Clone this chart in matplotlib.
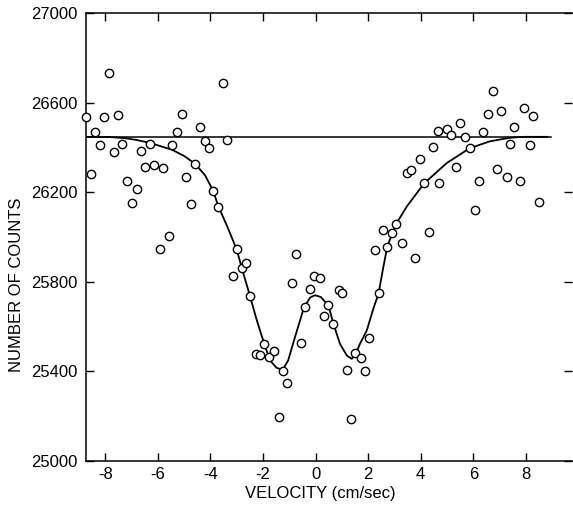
import matplotlib.pyplot as plt

plt.rcParams["font.family"] = ["Liberation Sans", "DejaVu Sans"]

# measured counts (open circles)
velocity = [
    -8.73, -8.55, -8.38, -8.19, -8.03, -7.86, -7.67, -7.52, -7.35, -7.16,
    -6.98, -6.80, -6.63, -6.47, -6.29, -6.14, -5.91, -5.80, -5.58, -5.47,
    -5.27, -5.09, -4.91, -4.72, -4.57, -4.40, -4.21, -4.05, -3.89, -3.72,
    -3.53, -3.37, -3.15, -3.00, -2.81, -2.63, -2.49, -2.27, -2.12, -1.95,
    -1.77, -1.58, -1.40, -1.22, -1.10, -0.89, -0.74, -0.55, -0.40, -0.22,
    -0.06, 0.17, 0.34, 0.49, 0.65, 0.88, 1.01, 1.19, 1.34, 1.51,
    1.72, 1.88, 2.05, 2.26, 2.40, 2.58, 2.73, 2.92, 3.06, 3.28,
    3.47, 3.64, 3.78, 3.97, 4.13, 4.30, 4.47, 4.65, 4.70, 4.99,
    5.16, 5.33, 5.49, 5.68, 5.86, 6.06, 6.22, 6.37, 6.56, 6.75,
    6.90, 7.07, 7.28, 7.41, 7.56, 7.78, 7.94, 8.16, 8.28, 8.49,
]
counts = [
    26537, 26279, 26468, 26409, 26537, 26731, 26381, 26546, 26416, 26251,
    26153, 26212, 26383, 26311, 26416, 26320, 25946, 26309, 26003, 26411,
    26468, 26549, 26268, 26147, 26326, 26490, 26427, 26396, 26206, 26135,
    26686, 26431, 25825, 25945, 25862, 25883, 25736, 25477, 25474, 25523,
    25463, 25490, 25197, 25404, 25347, 25795, 25922, 25526, 25686, 25770,
    25824, 25819, 25647, 25695, 25611, 25762, 25752, 25407, 25188, 25481,
    25459, 25402, 25547, 25940, 25749, 26030, 25957, 26017, 26057, 25973,
    26286, 26300, 25906, 26350, 26239, 26022, 26402, 26474, 26242, 26480,
    26453, 26311, 26507, 26445, 26396, 26120, 26248, 26470, 26547, 26653,
    26302, 26564, 26269, 26417, 26490, 26250, 26574, 26411, 26541, 26154,
]

# fitted curve
fit_velocity = [
    -8.73, -7.80, -7.24, -6.80, -6.29, -5.80, -5.47, -5.00, -4.58, -4.20,
    -3.89, -3.70, -3.35, -3.00, -2.75, -2.49, -2.24, -1.95, -1.73, -1.48,
    -1.25, -1.04, -0.78, -0.44, -0.20, -0.02, 0.20, 0.49, 0.68, 0.93,
    1.19, 1.38, 1.54, 1.69, 1.95, 2.20, 2.40, 2.57, 2.73, 2.92,
    3.06, 3.47, 4.13, 4.99, 5.86, 6.63, 7.40, 7.90, 8.80,
]
fit_counts = [
    26447, 26446, 26441, 26433, 26420, 26402, 26390, 26362, 26327, 26275,
    26206, 26138, 26045, 25945, 25840, 25736, 25631, 25523, 25449, 25416,
    25407, 25449, 25553, 25685, 25730, 25740, 25732, 25695, 25613, 25523,
    25471, 25456, 25481, 25523, 25583, 25680, 25749, 25860, 25957, 26017,
    26057, 26136, 26239, 26330, 26396, 26427, 26443, 26447, 26447,
]

baseline = 26447
baseline_span = [-8.73, 8.97]

x_ticks = [-8, -6, -4, -2, 0, 2, 4, 6, 8]
y_ticks = [25000, 25400, 25800, 26200, 26600, 27000]


def main():
    fig = plt.figure(figsize=(5.73, 5.08), dpi=100)
    ax = fig.add_axes([0.150, 0.0925, 0.849, 0.882])

    ax.plot(baseline_span, [baseline, baseline], color="black", lw=1.1)
    ax.plot(fit_velocity, fit_counts, color="black", lw=1.3,
            solid_joinstyle="round")
    ax.plot(velocity, counts, "o", mfc="white", mec="black", ms=6, mew=1.0,
            clip_on=False, zorder=3)

    ax.set_xlim(-8.73, 9.77)
    ax.set_ylim(25000, 27000)
    ax.set_xticks(x_ticks)
    ax.set_yticks(y_ticks)
    ax.set_xticklabels([f"{v:d}" for v in x_ticks])
    ax.tick_params(direction="in", length=6, width=1, labelsize=12,
                   top=True, right=True)
    ax.tick_params(axis="x", pad=4)
    ax.tick_params(axis="y", pad=6)
    ax.spines["right"].set_visible(False)
    for side in ("left", "top", "bottom"):
        ax.spines[side].set_linewidth(1.1)

    ax.set_xlabel("VELOCITY (cm/sec)", fontsize=12)
    ax.set_ylabel("NUMBER OF COUNTS", fontsize=12)
    ax.xaxis.set_label_coords(0.481, -0.056)
    ax.yaxis.set_label_coords(-0.128, 0.393)

    fig.savefig("out.png", dpi=100)


if __name__ == "__main__":
    main()
